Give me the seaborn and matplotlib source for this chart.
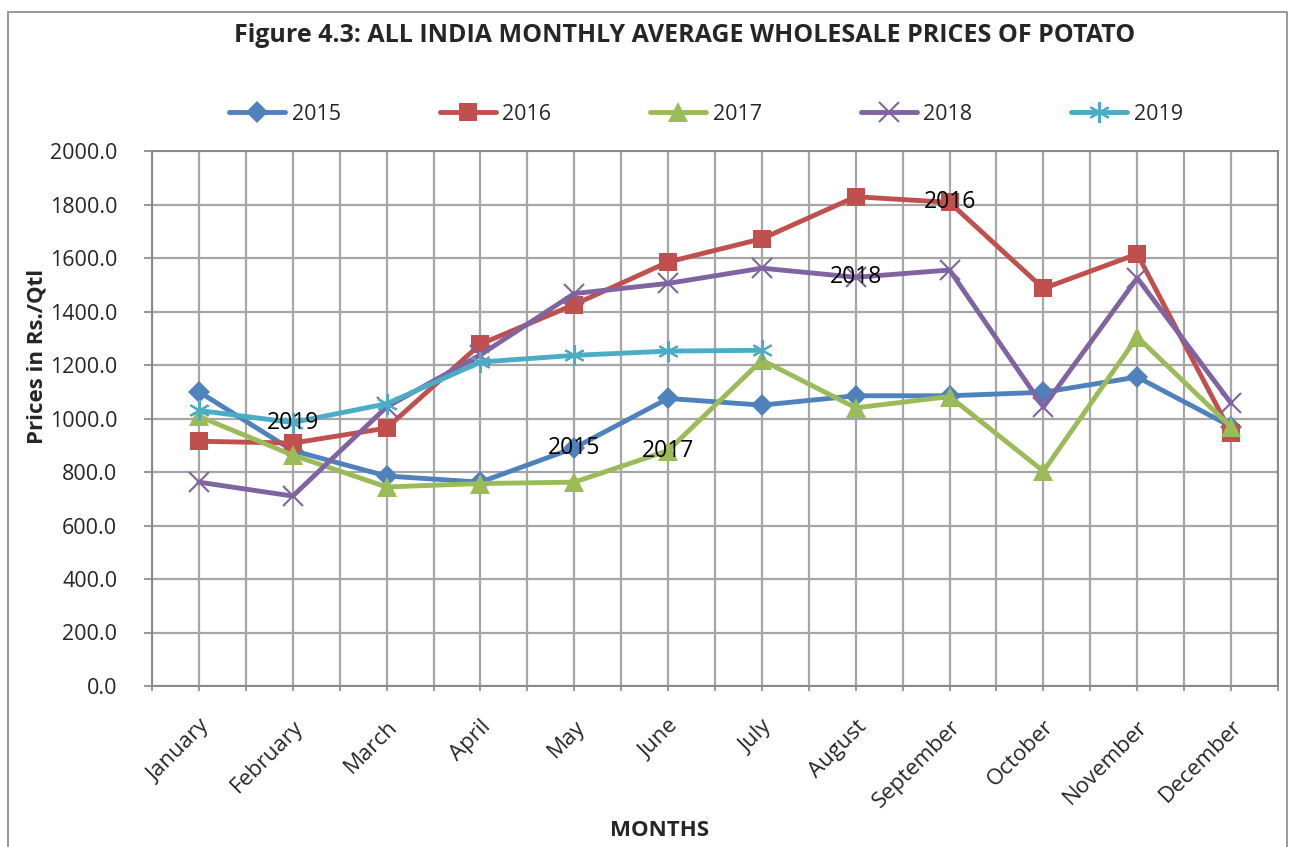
import numpy as np
import pandas as pd
import matplotlib
matplotlib.use("Agg")
import matplotlib.pyplot as plt
import seaborn as sns
from matplotlib.patches import Rectangle

months = ["January", "February", "March", "April", "May", "June", "July",
          "August", "September", "October", "November", "December"]
years = ["2015", "2016", "2017", "2018", "2019"]
p2015 = [1100, 880, 785, 762, 890, 1075, 1050, 1085, 1085, 1098, 1155, 970]
p2016 = [915, 908, 964, 1278, 1426, 1585, 1672, 1829, 1808, 1486, 1615, 946]
p2017 = [1008, 863, 744, 757, 762, 880, 1218, 1040, 1082, 803, 1305, 968]
p2018 = [762, 710, 1043, 1238, 1467, 1505, 1562, 1528, 1555, 1043, 1525, 1057]
p2019 = [1030, 985, 1055, 1211, 1236, 1252, 1255, np.nan, np.nan, np.nan, np.nan, np.nan]
yticks = [0, 200, 400, 600, 800, 1000, 1200, 1400, 1600, 1800, 2000]
# series-name data labels: (series, month index)
label_points = [("2019", 1), ("2015", 4), ("2017", 5), ("2018", 7), ("2016", 8)]

series = dict(zip(years, [p2015, p2016, p2017, p2018, p2019]))
colors = {"2015": "#4F81BD", "2016": "#C0504D", "2017": "#9BBB59",
          "2018": "#8064A2", "2019": "#4BACC6"}
markers = {"2015": "D", "2016": "s", "2017": "^", "2018": "x", "2019": (6, 2, 0)}
msizes = {"2015": 11, "2016": 13, "2017": 14, "2018": 14, "2019": 15}

sns.set_theme(style="white")
plt.rcParams['font.family'] = ['Open Sans', 'DejaVu Sans']

fig = plt.figure(figsize=(12.9, 8.47), dpi=100)
W, H = 1290, 847
ax = fig.add_axes([152 / W, 1 - 686 / H, (1278 - 152) / W, (686 - 151) / H])

# outer chart frame
fig.patches.append(Rectangle((8 / W, -0.01), (1287 - 8) / W, 1 - 12 / H + 0.01,
                             transform=fig.transFigure, fill=False,
                             edgecolor="#888888", linewidth=1.2, zorder=0))

x = np.arange(len(months))
for yr in years:
    df = pd.DataFrame({"x": x, "y": series[yr]}).dropna()
    mk = markers[yr]
    kw = dict(markeredgewidth=1.5) if yr in ("2018", "2019") else dict(markeredgewidth=0)
    sns.lineplot(data=df, x="x", y="y", ax=ax, color=colors[yr], linewidth=3.5,
                 marker=mk, markersize=msizes[yr], markeredgecolor=colors[yr],
                 label=yr, zorder=3, **kw)

for yr, i in label_points:
    ax.text(x[i], series[yr][i], yr, ha="center", va="center", fontsize=16.5,
            color="black", zorder=5)

ax.set_xlim(-0.5, len(months) - 0.5)
ax.set_ylim(0, 2000)
ax.set_yticks(yticks)
ax.set_yticklabels([f"{v:.1f}" for v in yticks], fontsize=15.5)
ax.set_xticks(x)
ax.set_xticklabels(months, rotation=45, ha="right", rotation_mode="anchor", fontsize=16)
ax.set_xticks(np.arange(-0.5, len(months)), minor=True)
ax.grid(True, which="major", axis="both", color="#A6A6A6", linewidth=1.6)
ax.grid(True, which="minor", axis="x", color="#A6A6A6", linewidth=1.6)
ax.tick_params(axis="x", which="both", direction="out", length=3.6, width=1.2,
               color="#888888", bottom=True, pad=18)
ax.tick_params(axis="y", direction="out", length=6, width=1.2, color="#888888",
               left=True, pad=19)
for s in ax.spines.values():
    s.set_color("#888888")
    s.set_linewidth(1.4)

ax.set_xlabel("")
ax.set_ylabel("")
fig.text(660 / W, 1 - 830 / H, "MONTHS", ha="center", va="center",
         fontsize=16, fontweight="bold")
fig.text(37 / W, 1 - 356 / H, "Prices in Rs./Qtl", ha="center", va="center",
         rotation=90, fontsize=16, fontweight="bold")

fig.text(685 / W, 1 - 36 / H, "Figure 4.3: ALL INDIA MONTHLY AVERAGE WHOLESALE PRICES OF POTATO",
         ha="center", va="center", fontsize=18, fontweight="bold")

leg = ax.legend(loc="center", bbox_to_anchor=(706 / W, 1 - 114 / H),
                bbox_transform=fig.transFigure, ncol=5, frameon=False,
                fontsize=15.5, handlelength=2.6, columnspacing=4.6, handletextpad=0.3)

fig.savefig("out.png", dpi=100)
